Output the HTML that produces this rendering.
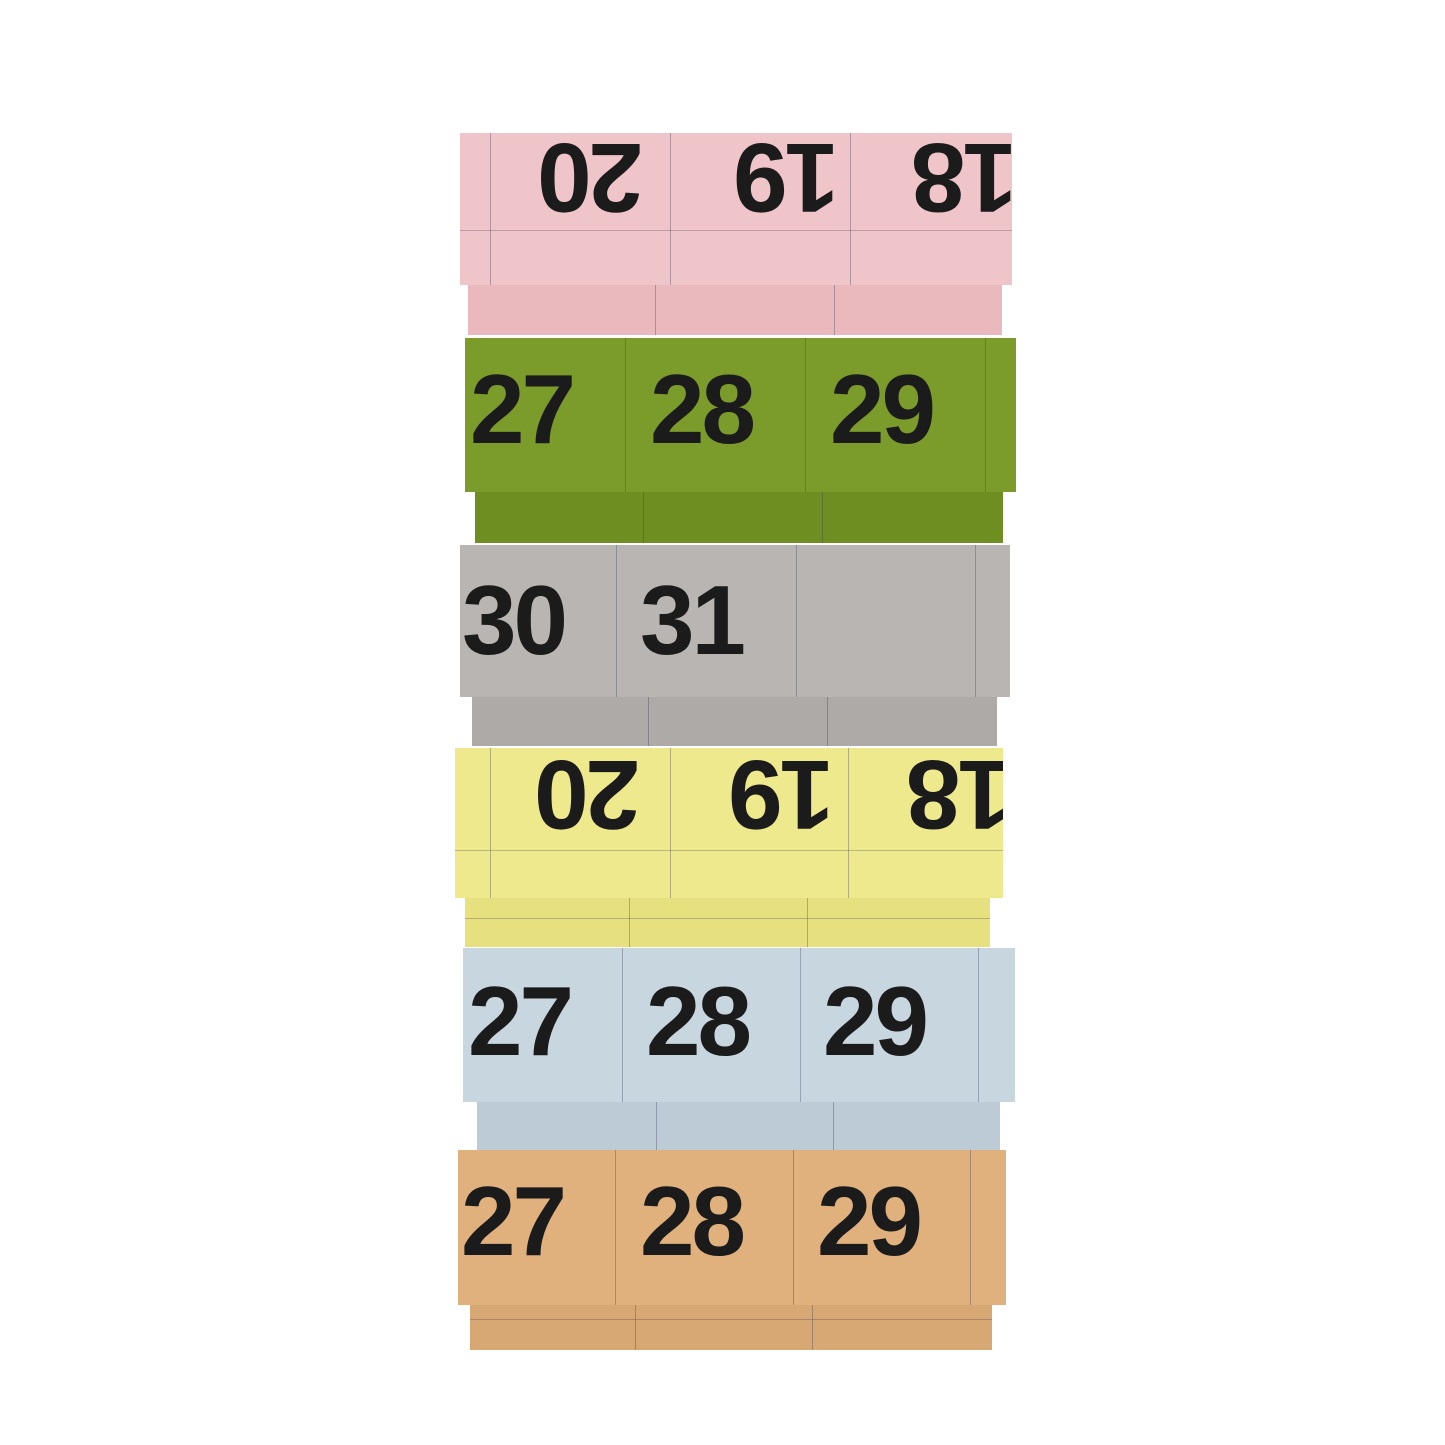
<!DOCTYPE html>
<html><head><meta charset="utf-8"><style>
html,body{margin:0;padding:0;background:#fff;}
body{width:1445px;height:1445px;position:relative;overflow:hidden;font-family:"Liberation Sans",sans-serif;}
.b{position:absolute;box-sizing:border-box;overflow:hidden;}
.v{position:absolute;top:0;bottom:0;width:1px;background:rgba(60,60,90,0.35);}
.h{position:absolute;left:0;right:0;height:1px;background:rgba(60,60,90,0.3);}
.t{position:absolute;font-weight:bold;font-size:98px;line-height:1;color:#1b1b1b;letter-spacing:-3px;}
.r{transform:rotate(180deg);}
</style></head><body>

<!-- pink -->
<div class="b" style="left:468px;top:285px;width:534px;height:50px;background:#e9b9be;">
 <div class="v" style="left:187px"></div><div class="v" style="left:366px"></div></div>
<div class="b" style="left:460px;top:133px;width:552px;height:152px;background:#f0c5ca;">
 <div class="v" style="left:30px"></div><div class="v" style="left:210px"></div><div class="v" style="left:390px"></div>
 <div class="h" style="top:97px"></div>
 <div class="t r" style="left:80px;top:-4px;">20</div>
 <div class="t r" style="left:276px;top:-4px;">19</div>
 <div class="t r" style="left:454px;top:-4px;">18</div>
</div>

<!-- green -->
<div class="b" style="left:475px;top:492px;width:528px;height:51px;background:#6f8e22;">
 <div class="v" style="left:168px"></div><div class="v" style="left:347px"></div></div>
<div class="b" style="left:465px;top:338px;width:551px;height:154px;background:#7b9b2b;">
 <div class="v" style="left:160px"></div><div class="v" style="left:340px"></div><div class="v" style="left:520px"></div>
 <div class="t" style="left:5px;top:22px;">27</div>
 <div class="t" style="left:185px;top:22px;">28</div>
 <div class="t" style="left:365px;top:22px;">29</div>
</div>

<!-- gray -->
<div class="b" style="left:472px;top:697px;width:525px;height:49px;background:#aeaaa8;">
 <div class="v" style="left:176px"></div><div class="v" style="left:355px"></div></div>
<div class="b" style="left:460px;top:545px;width:550px;height:152px;background:#b9b5b3;">
 <div class="v" style="left:156px"></div><div class="v" style="left:336px"></div><div class="v" style="left:515px"></div>
 <div class="t" style="left:2px;top:26px;">30</div>
 <div class="t" style="left:180px;top:26px;">31</div>
</div>

<!-- yellow -->
<div class="b" style="left:465px;top:898px;width:525px;height:49px;background:#e6e07e;">
 <div class="v" style="left:164px"></div><div class="v" style="left:342px"></div><div class="h" style="top:20px"></div></div>
<div class="b" style="left:455px;top:748px;width:548px;height:150px;background:#eee98c;">
 <div class="v" style="left:35px"></div><div class="v" style="left:215px"></div><div class="v" style="left:393px"></div>
 <div class="h" style="top:102px"></div>
 <div class="t r" style="left:82px;top:-2px;">20</div>
 <div class="t r" style="left:276px;top:-2px;">19</div>
 <div class="t r" style="left:454px;top:-2px;">18</div>
</div>

<!-- blue -->
<div class="b" style="left:477px;top:1102px;width:523px;height:48px;background:#bccbd5;">
 <div class="v" style="left:179px"></div><div class="v" style="left:356px"></div></div>
<div class="b" style="left:463px;top:948px;width:552px;height:154px;background:#c8d6df;">
 <div class="v" style="left:159px"></div><div class="v" style="left:337px"></div><div class="v" style="left:515px"></div>
 <div class="t" style="left:5px;top:24px;">27</div>
 <div class="t" style="left:183px;top:24px;">28</div>
 <div class="t" style="left:360px;top:24px;">29</div>
</div>

<!-- orange -->
<div class="b" style="left:470px;top:1305px;width:522px;height:45px;background:#d8a874;">
 <div class="v" style="left:165px"></div><div class="v" style="left:342px"></div><div class="h" style="top:14px"></div></div>
<div class="b" style="left:458px;top:1150px;width:548px;height:155px;background:#e0b17d;">
 <div class="v" style="left:157px"></div><div class="v" style="left:335px"></div><div class="v" style="left:512px"></div>
 <div class="t" style="left:3px;top:22px;">27</div>
 <div class="t" style="left:182px;top:22px;">28</div>
 <div class="t" style="left:359px;top:22px;">29</div>
</div>

</body></html>
